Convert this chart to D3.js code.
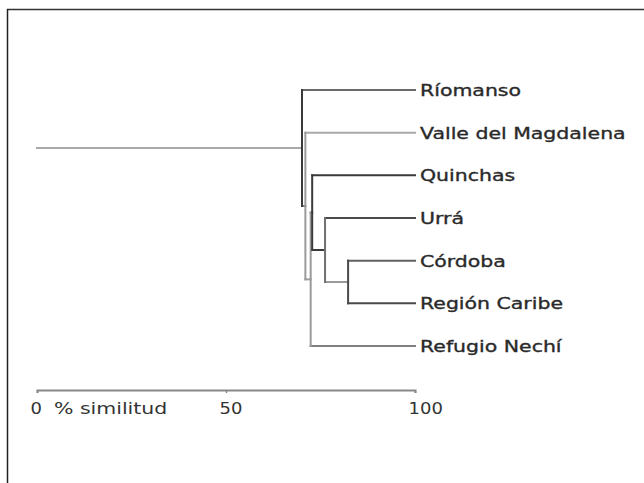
<!DOCTYPE html>
<html><head><meta charset="utf-8">
<script src="https://cdn.jsdelivr.net/npm/d3@7"></script>
<style>
html,body{margin:0;padding:0;background:#fff;}
svg{display:block;}
</style></head>
<body>
<script>
// Leaves (top to bottom)
const leaves = ["Ríomanso","Valle del Magdalena","Quinchas","Urrá","Córdoba","Región Caribe","Refugio Nechí"];
// Internal nodes: name, children, % similarity at which they join
const nodeNames   = ["E","D","C","B","A","root"];
const nodeKids    = [["Córdoba","Región Caribe"],["Urrá","E"],["Quinchas","D"],["C","Refugio Nechí"],["Valle del Magdalena","B"],["Ríomanso","A"]];
const nodeSim     = [82.3, 76.2, 72.8, 72.4, 71.0, 70.1];
const leafSim = 100;
const axisTicks = [0, 50, 100];
const axisTitle = "% similitud";

// styles (grey tone of each line)
const vColor = {root:"#3a3a3a", A:"#9a9a9a", B:"#9a9a9a", C:"#3a3a3a", D:"#707070", E:"#4a4a4a"};
const hColor = {"Ríomanso":"#6a6a6a","Valle del Magdalena":"#a8a8a8","Quinchas":"#3a3a3a","Urrá":"#4a4a4a",
  "Córdoba":"#606060","Región Caribe":"#4a4a4a","Refugio Nechí":"#808080",
  A:"#7a7a7a", B:"#a0a0a0", C:"#3a3a3a", D:"#3a3a3a", E:"#9a9a9a", root:"#a8a8a8"};
const SX = 1.28; // horizontal stretch of the text

const W = 644, H = 483;
const svg = d3.select("body").append("svg").attr("width", W).attr("height", H);

// frame (top and left edges)
svg.append("line").attr("x1",7).attr("x2",W).attr("y1",9.5).attr("y2",9.5).attr("stroke","#333").attr("stroke-width",1.5);
svg.append("line").attr("x1",7.5).attr("x2",7.5).attr("y1",9).attr("y2",H).attr("stroke","#222").attr("stroke-width",1.5);

const x = d3.scaleLinear().domain([0,100]).range([37,415]);
const y = d3.scalePoint().domain(leaves).range([90,346]);

// build hierarchy
const kidsMap = {}; nodeNames.forEach((n,i)=>kidsMap[n]={kids:nodeKids[i], sim:nodeSim[i]});
const rootData = (function build(n){ return kidsMap[n] ? {name:n, sim:kidsMap[n].sim, children:kidsMap[n].kids.map(build)} : {name:n, sim:leafSim}; })("root");
const root = d3.hierarchy(rootData);
root.eachAfter(d => { d.px = x(d.data.sim); d.py = d.children ? d3.mean(d.children, c=>c.py) : y(d.data.name); });

const g = svg.append("g").attr("fill","none").attr("stroke-width",2).attr("stroke-linecap","square");
// root stem
g.append("line").attr("x1",x(0)).attr("x2",root.px).attr("y1",root.py).attr("y2",root.py).attr("stroke",hColor.root);
// horizontal links
root.descendants().filter(d=>d.parent).forEach(d=>{
  g.append("line").attr("x1",d.parent.px).attr("x2",d.px).attr("y1",d.py).attr("y2",d.py).attr("stroke",hColor[d.data.name]);
});
// vertical connectors
root.descendants().filter(d=>d.children).forEach(d=>{
  const ys = d.children.map(c=>c.py);
  g.append("line").attr("x1",d.px).attr("x2",d.px).attr("y1",d3.min(ys)).attr("y2",d3.max(ys)).attr("stroke",vColor[d.data.name]);
});

// leaf labels
svg.append("g").selectAll("text").data(root.leaves()).join("text")
  .attr("transform", d=>`translate(${d.px+5},${d.py+6}) scale(${SX},1)`)
  .attr("font-family","DejaVu Sans, sans-serif").attr("font-size",16).attr("fill","#2a2a2a")
  .attr("stroke","#2a2a2a").attr("stroke-width",0.35)
  .text(d=>d.data.name);

// axis
const axis = d3.axisBottom(x).tickValues(axisTicks).tickSize(3).tickSizeOuter(3).tickPadding(10).tickFormat(d3.format("d"));
const ag = svg.append("g").attr("transform","translate(0,390)").call(axis);
ag.select(".domain").attr("stroke","#888").attr("stroke-width",2);
ag.selectAll(".tick line").attr("stroke","#888").attr("stroke-width",1.5);
ag.selectAll(".tick text").attr("font-family","DejaVu Sans, sans-serif").attr("font-size",15).attr("fill","#333")
  .attr("text-anchor","start").attr("x",-7/1.2).attr("transform","scale(1.2,1)");
svg.append("text").attr("transform",`translate(54,414) scale(${SX},1)`).attr("font-family","DejaVu Sans, sans-serif").attr("font-size",16)
  .attr("fill","#333").text(axisTitle);
</script>
</body></html>
